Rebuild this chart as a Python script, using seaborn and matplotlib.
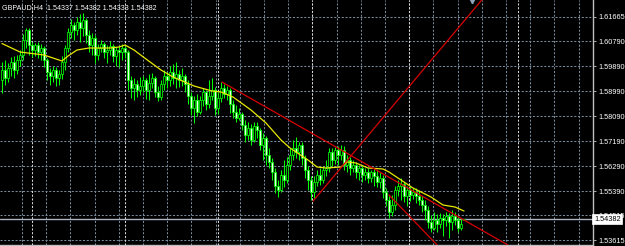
import numpy as np
import pandas as pd
import matplotlib
matplotlib.use("Agg")
import matplotlib.pyplot as plt
import matplotlib.transforms as mtransforms
import seaborn as sns

# ---------------- data ----------------
header_text = "GBPAUD,H4  1.54337 1.54382 1.54333 1.54382"

open_ = [
    1.59390, 1.59750, 1.59462, 1.59822, 1.60038, 1.59750, 1.60110, 1.60290, 1.60830, 1.61190,
    1.60650, 1.60470, 1.60650, 1.60398, 1.60542, 1.60110, 1.59678, 1.59534, 1.59750, 1.59462,
    1.59606, 1.60038, 1.60542, 1.61118, 1.61370, 1.61190, 1.61478, 1.61262, 1.61550, 1.61010,
    1.60650, 1.60902, 1.60290, 1.60542, 1.60686, 1.60398, 1.60470, 1.60614, 1.60254, 1.60470,
    1.60398, 1.60542, 1.60398, 1.59390, 1.59102, 1.59246, 1.59030, 1.59174, 1.59390, 1.59030,
    1.59282, 1.59462, 1.58958, 1.58778, 1.59246, 1.59534, 1.59390, 1.59678, 1.59462, 1.59606,
    1.59390, 1.59534, 1.59246, 1.58814, 1.58382, 1.58670, 1.58238, 1.58670, 1.58958, 1.58526,
    1.58814, 1.59030, 1.58382, 1.58742, 1.59102, 1.58886, 1.59030, 1.58526, 1.58238, 1.58022,
    1.58166, 1.57770, 1.57410, 1.57662, 1.57230, 1.57734, 1.57590, 1.57050, 1.57302, 1.56690,
    1.56438, 1.56078, 1.55574, 1.55430, 1.55970, 1.55790, 1.56330, 1.56690, 1.56942, 1.56798,
    1.57050, 1.56582, 1.56150, 1.55790, 1.55358, 1.55718, 1.55970, 1.55790, 1.56150, 1.56222,
    1.56798, 1.56510, 1.56870, 1.56690, 1.56870, 1.56330, 1.56510, 1.56222, 1.56330, 1.56078,
    1.56222, 1.55970, 1.56078, 1.55862, 1.56078, 1.55934, 1.55718, 1.55862, 1.55358, 1.55070,
    1.54638, 1.54890, 1.55430, 1.55574, 1.55646, 1.55214, 1.55430, 1.55250, 1.55358, 1.55214,
    1.55070, 1.54890, 1.54710, 1.54278, 1.54062, 1.54350, 1.54206, 1.54422, 1.54350, 1.54494,
    1.54278, 1.54494, 1.54350, 1.54062, 1.54337,
]
high = [
    1.60038, 1.60110, 1.60002, 1.60218, 1.60254, 1.60290, 1.60470, 1.61046, 1.61262, 1.61262,
    1.60758, 1.60722, 1.60758, 1.60686, 1.60614, 1.60182, 1.59822, 1.59894, 1.59858, 1.59750,
    1.60254, 1.60650, 1.61262, 1.61586, 1.61478, 1.61658, 1.61766, 1.61802, 1.61622, 1.61190,
    1.61082, 1.61010, 1.60686, 1.60830, 1.60758, 1.60650, 1.60794, 1.60686, 1.60578, 1.60614,
    1.60686, 1.60614, 1.60470, 1.59534, 1.59462, 1.59390, 1.59498, 1.59534, 1.59462, 1.59606,
    1.59642, 1.59534, 1.59174, 1.59390, 1.59750, 1.59678, 1.59894, 1.59966, 1.60038, 1.59750,
    1.59822, 1.59606, 1.59390, 1.58958, 1.58814, 1.58886, 1.58814, 1.59102, 1.59030, 1.59390,
    1.59462, 1.59138, 1.58958, 1.59318, 1.59246, 1.59174, 1.59102, 1.58670, 1.58490, 1.58382,
    1.58238, 1.57950, 1.57878, 1.57806, 1.57878, 1.57878, 1.57662, 1.57482, 1.57374, 1.56942,
    1.56582, 1.56222, 1.55790, 1.56150, 1.56510, 1.56618, 1.56942, 1.57230, 1.57338, 1.57158,
    1.57158, 1.56690, 1.56294, 1.55934, 1.55934, 1.56150, 1.56222, 1.56294, 1.56510, 1.56942,
    1.56942, 1.56978, 1.57014, 1.57050, 1.57014, 1.56690, 1.56618, 1.56510, 1.56438, 1.56330,
    1.56294, 1.56222, 1.56222, 1.56150, 1.56222, 1.56150, 1.56078, 1.55970, 1.55502, 1.55214,
    1.55250, 1.55574, 1.55790, 1.55862, 1.55718, 1.55574, 1.55574, 1.55502, 1.55502, 1.55430,
    1.55214, 1.55070, 1.54854, 1.54530, 1.54638, 1.54566, 1.54602, 1.54566, 1.54638, 1.54602,
    1.54710, 1.54638, 1.54458, 1.54422, 1.54382,
]
low = [
    1.58922, 1.59210, 1.59318, 1.59534, 1.59462, 1.59606, 1.59894, 1.60110, 1.60542, 1.60290,
    1.60218, 1.60254, 1.60182, 1.60110, 1.59858, 1.59390, 1.59210, 1.59318, 1.59174, 1.59210,
    1.59426, 1.59750, 1.60398, 1.60902, 1.60830, 1.61010, 1.60758, 1.60974, 1.60722, 1.60398,
    1.60290, 1.60002, 1.60110, 1.60398, 1.60182, 1.60002, 1.60290, 1.60038, 1.59894, 1.59858,
    1.60110, 1.60182, 1.59030, 1.58742, 1.58670, 1.58778, 1.58850, 1.58958, 1.58706, 1.58670,
    1.59102, 1.58778, 1.58634, 1.58670, 1.59030, 1.59102, 1.59174, 1.59246, 1.59102, 1.59138,
    1.59174, 1.58958, 1.58526, 1.58130, 1.57842, 1.58094, 1.58166, 1.58454, 1.58310, 1.58382,
    1.58670, 1.58130, 1.58166, 1.58598, 1.58742, 1.58670, 1.58202, 1.58022, 1.57878, 1.57950,
    1.57590, 1.57158, 1.57230, 1.57050, 1.57158, 1.57302, 1.56870, 1.56510, 1.56330, 1.56222,
    1.55790, 1.55322, 1.55178, 1.55358, 1.55538, 1.55682, 1.56150, 1.56510, 1.56582, 1.56510,
    1.56330, 1.55862, 1.55430, 1.55070, 1.55142, 1.55574, 1.55610, 1.55682, 1.55934, 1.56078,
    1.56294, 1.56366, 1.56330, 1.56510, 1.56150, 1.56078, 1.55970, 1.56078, 1.55862, 1.55790,
    1.55718, 1.55790, 1.55682, 1.55718, 1.55574, 1.55538, 1.55502, 1.55142, 1.54854, 1.54422,
    1.54494, 1.54710, 1.55214, 1.55070, 1.54998, 1.54854, 1.55034, 1.55106, 1.54962, 1.54890,
    1.54638, 1.54350, 1.54062, 1.53918, 1.53990, 1.53918, 1.54062, 1.53774, 1.54134, 1.53702,
    1.53990, 1.54170, 1.53918, 1.53990, 1.54333,
]
close = [
    1.59750, 1.59462, 1.59822, 1.60038, 1.59750, 1.60110, 1.60290, 1.60830, 1.61190, 1.60650,
    1.60470, 1.60650, 1.60398, 1.60542, 1.60110, 1.59678, 1.59534, 1.59750, 1.59462, 1.59606,
    1.60038, 1.60542, 1.61118, 1.61370, 1.61190, 1.61478, 1.61262, 1.61550, 1.61010, 1.60650,
    1.60902, 1.60290, 1.60542, 1.60686, 1.60398, 1.60470, 1.60614, 1.60254, 1.60470, 1.60398,
    1.60542, 1.60398, 1.59390, 1.59102, 1.59246, 1.59030, 1.59174, 1.59390, 1.59030, 1.59282,
    1.59462, 1.58958, 1.58778, 1.59246, 1.59534, 1.59390, 1.59678, 1.59462, 1.59606, 1.59390,
    1.59534, 1.59246, 1.58814, 1.58382, 1.58670, 1.58238, 1.58670, 1.58958, 1.58526, 1.58814,
    1.59030, 1.58382, 1.58742, 1.59102, 1.58886, 1.59030, 1.58526, 1.58238, 1.58022, 1.58166,
    1.57770, 1.57410, 1.57662, 1.57230, 1.57734, 1.57590, 1.57050, 1.57302, 1.56690, 1.56438,
    1.56078, 1.55574, 1.55430, 1.55970, 1.55790, 1.56330, 1.56690, 1.56942, 1.56798, 1.57050,
    1.56582, 1.56150, 1.55790, 1.55358, 1.55718, 1.55970, 1.55790, 1.56150, 1.56222, 1.56798,
    1.56510, 1.56870, 1.56690, 1.56870, 1.56330, 1.56510, 1.56222, 1.56330, 1.56078, 1.56222,
    1.55970, 1.56078, 1.55862, 1.56078, 1.55934, 1.55718, 1.55862, 1.55358, 1.55070, 1.54638,
    1.54890, 1.55430, 1.55574, 1.55646, 1.55214, 1.55430, 1.55250, 1.55358, 1.55214, 1.55070,
    1.54890, 1.54710, 1.54278, 1.54062, 1.54350, 1.54206, 1.54422, 1.54350, 1.54494, 1.54278,
    1.54494, 1.54350, 1.54062, 1.54206, 1.54382,
]

# moving average (yellow), sampled at bar indices
ma_bar = [0, 6, 14, 18, 20, 22, 25, 29, 36, 39, 41, 44, 48, 53, 57, 64, 70, 73, 77, 83,
          88, 93, 96, 102, 105, 108, 113, 115, 118, 122, 127, 129, 133, 137, 143, 147, 151, 154]
ma_value = [1.60704, 1.60398, 1.60290, 1.60146, 1.60074, 1.60254, 1.60470, 1.60542, 1.60542, 1.60578,
            1.60650, 1.60470, 1.60146, 1.59750, 1.59498, 1.59174, 1.58994, 1.58958, 1.58778, 1.58310,
            1.57842, 1.57230, 1.56942, 1.56510, 1.56258, 1.56222, 1.56258, 1.56438, 1.56402, 1.56222,
            1.56186, 1.56078, 1.55790, 1.55502, 1.55178, 1.54890, 1.54818, 1.54674]

# trend lines (anchor points: bar index, price)
trend_down_bar = [73.3, 172.7]
trend_down_price = [1.59318, 1.53198]
trend_up_bar = [103.7, 162.7]
trend_up_price = [1.55034, 1.62630]
channel_bar = [129.0, 146.0]
channel_price = [1.55250, 1.53342]

ytick_values = [1.61665, 1.60790, 1.59890, 1.58990, 1.58090, 1.57190, 1.56290, 1.55390, 1.54515, 1.53615]
ytick_labels = ["1.61665", "1.60790", "1.59890", "1.58990", "1.58090", "1.57190", "1.56290",
                "1.55390", "1.54515", "1.53615"]
last_price = 1.54382
last_price_label = "1.54382"

# ---------------- style ----------------
sns.set_style("dark", {"axes.facecolor": "black", "figure.facecolor": "black"})
plt.rcParams["font.family"] = ["Liberation Sans", "DejaVu Sans"]

W, H = 625, 246
fig = plt.figure(figsize=(W / 100, H / 100), dpi=100, facecolor="black")
ax = fig.add_axes([0, 1.5 / H, 592.5 / W, 244.5 / H])
ax.set_facecolor("black")

n = len(close)
df = pd.DataFrame({"bar": np.arange(n), "open": open_, "high": high, "low": low, "close": close})
df["bull"] = df["close"] >= df["open"]

# grid
dash = (0, (2, 1.6))
grid_px = 22 + 24.2 * np.arange(24)
for px in grid_px:
    ax.axvline((px - 2) / 3, color="#778899", lw=0.75, ls=dash, zorder=0.5)
for px in [31.7, 125, 218.3, 312.3, 409, 518.3]:
    ax.axvline((px - 2) / 3, color="#d8d8d8", lw=0.75, ls=dash, zorder=0.6)
for v in ytick_values:
    ax.axhline(v, color="#778899", lw=0.75, ls=dash, zorder=0.5)

# candles
lime = "#00ff00"
ax.vlines(df["bar"], df["low"], df["high"], color=lime, lw=0.75, zorder=2)
body_bottom = np.minimum(df["open"], df["close"])
body_h = np.maximum((df["close"] - df["open"]).abs(), 0.00005)
ax.bar(df["bar"], body_h, bottom=body_bottom, width=0.62,
       color=np.where(df["bull"], "black", "#e8ffe8"), edgecolor=lime, linewidth=0.55, zorder=2.5)

# moving average
sns.lineplot(x=ma_bar, y=ma_value, color="#e8e800", lw=0.9, ax=ax, zorder=3)

# trend lines
red = "#d80000"
for xb, yp in [(trend_down_bar, trend_down_price), (trend_up_bar, trend_up_price),
               (channel_bar, channel_price)]:
    sns.lineplot(x=xb, y=yp, color=red, lw=0.9, ax=ax, zorder=4)

# current price line
ax.axhline(last_price, color="#aab4c0", lw=1.0, zorder=1.5)

# limits
ax.set_xlim(-2 / 3, (592.5 - 2) / 3)
ax.set_ylim(1.6227 - 0.00036 * 244.5, 1.6227)
ax.set_xlabel("")
ax.set_ylabel("")
ax.set_xticks([])

# right price axis
ax.yaxis.tick_right()
ax.set_yticks(ytick_values)
ax.set_yticklabels(ytick_labels)
ax.tick_params(axis="y", colors="#c8c8c8", labelcolor="white", labelsize=5.3,
               length=2.5, width=0.6, pad=1.5, right=True, left=False)
for s in ["top", "left"]:
    ax.spines[s].set_visible(False)
for s in ["right", "bottom"]:
    ax.spines[s].set_visible(True)
    ax.spines[s].set_color("#c0c0c0")
    ax.spines[s].set_linewidth(1.0)

# chart shift marker
ax.plot([(472 - 2) / 3], [1.6227 - 0.00036 * 1.2], marker="v", ms=3.2, color="#8fa3b8",
        clip_on=False, zorder=5)

# current price label box (drawn over the partly hidden 1.54515 label, as in MT4)
trans = mtransforms.blended_transform_factory(ax.transAxes, ax.transData)
ax.text(1.0 + 1.5 / 592.5, last_price, last_price_label, transform=trans, ha="left", va="center",
        fontsize=5.3, color="black", zorder=10, clip_on=False,
        bbox=dict(boxstyle="square,pad=0.25", fc="white", ec="white", lw=0.5))

# header
fig.text(2 / W, 1 - 7.5 / H, header_text, color="white", fontsize=5.1, ha="left", va="center")

fig.savefig("out.png", dpi=100, facecolor="black")
